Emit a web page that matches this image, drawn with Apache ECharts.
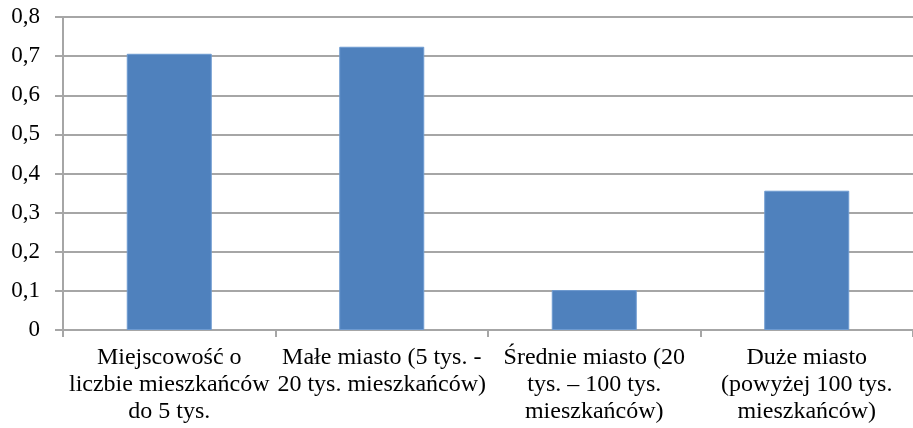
<!DOCTYPE html>
<html>
<head>
<meta charset="utf-8">
<script src="https://cdn.jsdelivr.net/npm/echarts@6/dist/echarts.min.js"></script>
<style>
  html, body { margin: 0; padding: 0; background: #fff; }
  #chart { width: 913px; height: 428px; }
</style>
</head>
<body>
<div id="chart"></div>
<script>
var categories = [
  'Miejscowość o\nliczbie mieszkańców\ndo 5 tys.',
  'Małe miasto (5 tys. -\n20 tys. mieszkańców)',
  'Średnie miasto (20\ntys. – 100 tys.\nmieszkańców)',
  'Duże miasto\n(powyżej 100 tys.\nmieszkańców)'
]
var values = [0.706, 0.724, 0.102, 0.356]

var font = 'Times New Roman, Liberation Serif, DejaVu Serif, serif'
var gray = '#a6a6a6'

var chart = echarts.init(document.getElementById('chart'), null, { renderer: 'canvas' })
chart.setOption({
  backgroundColor: '#fff',
  animation: false,
  textStyle: { fontFamily: font },
  grid: { left: 63, right: 0, top: 17, bottom: 98, containLabel: false },
  xAxis: {
    type: 'category',
    data: categories,
    axisLine: { lineStyle: { color: gray, width: 2 } },
    axisTick: { show: true, length: 7, lineStyle: { color: gray, width: 2 } },
    axisLabel: {
      interval: 0,
      margin: 14,
      color: '#000',
      fontFamily: font,
      fontSize: 24,
      lineHeight: 27,
      align: 'center'
    }
  },
  yAxis: {
    type: 'value',
    min: 0,
    max: 0.8,
    interval: 0.1,
    axisLine: { show: true, lineStyle: { color: gray, width: 2 } },
    axisTick: { show: true, length: 8, lineStyle: { color: gray, width: 2 } },
    splitLine: { lineStyle: { color: gray, width: 2 } },
    axisLabel: {
      margin: 23,
      color: '#000',
      fontFamily: font,
      fontSize: 23,
      formatter: function (v) {
        return v === 0 ? '0' : v.toFixed(1).replace('.', ',')
      }
    }
  },
  series: [{
    type: 'bar',
    data: values,
    barWidth: '40%',
    itemStyle: { color: '#4f81bd', borderColor: '#6e9bd1', borderWidth: 1 }
  }]
})
</script>
</body>
</html>
